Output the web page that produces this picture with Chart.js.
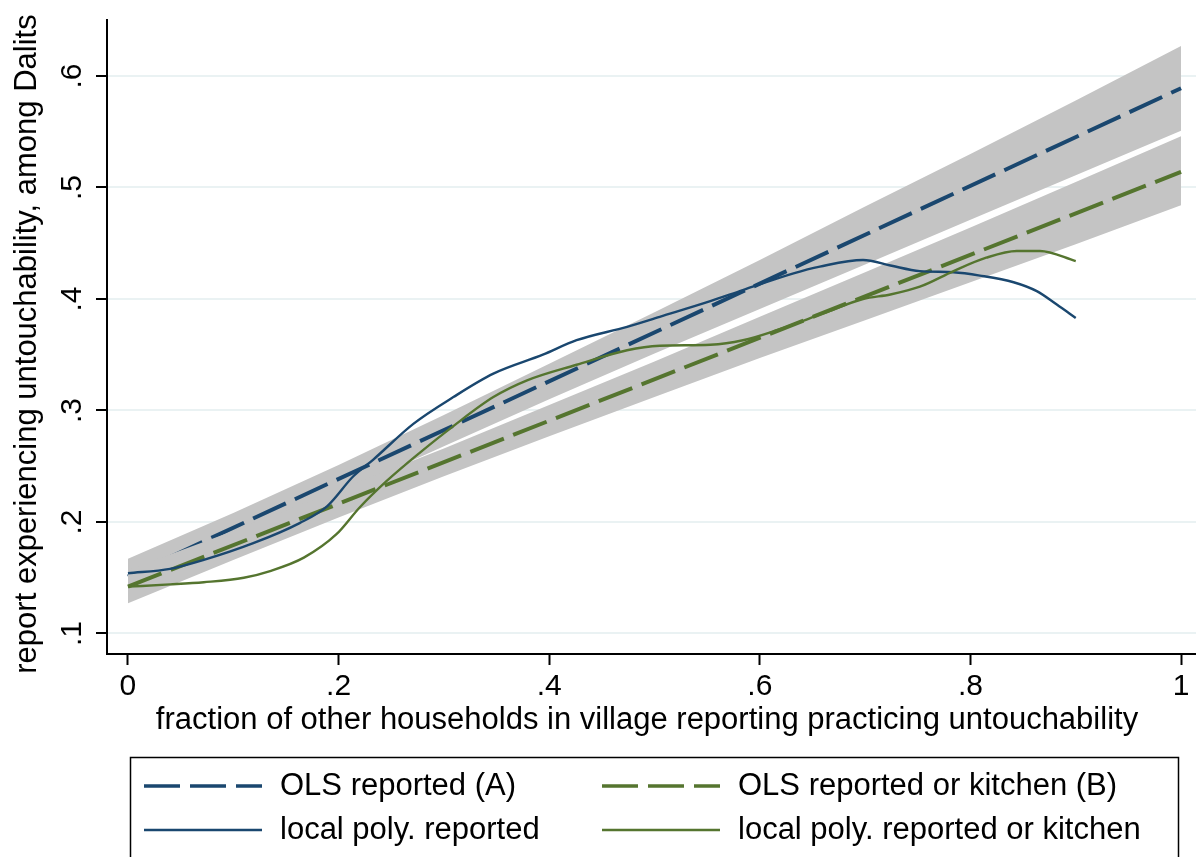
<!DOCTYPE html>
<html>
<head>
<meta charset="utf-8">
<script src="https://cdn.jsdelivr.net/npm/chart.js@4.4.1/dist/chart.umd.min.js"></script>
<style>
  html, body { margin: 0; padding: 0; background: #fff; }
  #wrap { width: 1196px; height: 857px; position: relative; }
</style>
</head>
<body>
<div id="wrap"><canvas id="chart"></canvas></div>
<script>
// axis ticks
const xTicks = [0, 0.2, 0.4, 0.6, 0.8, 1];
const yTicks = [0.1, 0.2, 0.3, 0.4, 0.5, 0.6];

// confidence bands, read at x = 0, .1, ... 1
const bandX = [0, 0.1, 0.2, 0.3, 0.4, 0.5, 0.6, 0.7, 0.8, 0.9, 1];
const bandAUpper = [0.167, 0.208, 0.251, 0.296, 0.342, 0.388, 0.435, 0.483, 0.530, 0.578, 0.627];
const bandALower = [0.135, 0.181, 0.225, 0.268, 0.310, 0.351, 0.391, 0.431, 0.471, 0.511, 0.551];
const bandBUpper = [0.157, 0.192, 0.229, 0.266, 0.305, 0.344, 0.384, 0.424, 0.464, 0.505, 0.546];
const bandBLower = [0.127, 0.166, 0.204, 0.241, 0.277, 0.312, 0.347, 0.381, 0.415, 0.449, 0.484];

// OLS fits
const olsX = [0, 1];
const olsA = [0.151, 0.589];
const olsB = [0.142, 0.514];

// local polynomial fits
const lpolyAX = [0, 0.04, 0.072, 0.119, 0.163, 0.189, 0.214, 0.233, 0.271, 0.309, 0.347, 0.394, 0.426, 0.474, 0.505, 0.553, 0.584, 0.632, 0.657, 0.698, 0.724, 0.752, 0.784, 0.809, 0.841, 0.863, 0.882, 0.9];
const lpolyA = [0.154, 0.158, 0.166, 0.181, 0.199, 0.214, 0.241, 0.256, 0.288, 0.312, 0.333, 0.350, 0.363, 0.375, 0.384, 0.398, 0.408, 0.423, 0.429, 0.435, 0.430, 0.425, 0.424, 0.421, 0.415, 0.407, 0.395, 0.383];
const lpolyBX = [0, 0.04, 0.072, 0.11, 0.135, 0.167, 0.198, 0.22, 0.246, 0.277, 0.309, 0.347, 0.379, 0.426, 0.474, 0.505, 0.553, 0.584, 0.616, 0.66, 0.698, 0.724, 0.752, 0.784, 0.815, 0.844, 0.866, 0.9];
const lpolyB = [0.142, 0.144, 0.146, 0.150, 0.156, 0.168, 0.189, 0.213, 0.237, 0.262, 0.286, 0.312, 0.327, 0.341, 0.354, 0.358, 0.359, 0.363, 0.372, 0.387, 0.400, 0.404, 0.411, 0.425, 0.437, 0.443, 0.443, 0.434];

const seriesLabels = ['OLS reported (A)', 'OLS reported or kitchen (B)', 'local poly. reported', 'local poly. reported or kitchen'];

const BLUE = '#1a476f';
const GREEN = '#55752f';
const BAND = '#c4c4c4';
const FONT = '"Liberation Sans", Arial, Helvetica, sans-serif';

function pts(xs, ys) {
    return xs.map((x, i) => ({ x: x, y: ys[i] }));
}

function fmt(v) {
    if (v === 0) return '0';
    if (v === 1) return '1';
    return String(+v.toFixed(2)).replace(/^0/, '');
}

const stataText = {
    id: 'stataText',
    afterDraw(chart) {
        const ctx = chart.ctx;
        const xs = chart.scales.x;
        const ys = chart.scales.y;
        const area = chart.chartArea;
        ctx.save();
        ctx.fillStyle = '#000';
        ctx.font = '30px ' + FONT;
        ctx.textBaseline = 'middle';
        ctx.textAlign = 'center';

        // x tick labels
        xTicks.forEach(v => {
            ctx.fillText(fmt(v), xs.getPixelForValue(v), area.bottom + 33);
        });
        // y tick labels, rotated like Stata
        yTicks.forEach(v => {
            ctx.save();
            ctx.translate(73, ys.getPixelForValue(v));
            ctx.rotate(-Math.PI / 2);
            ctx.fillText(fmt(v), 0, 0);
            ctx.restore();
        });

        // axis titles
        ctx.font = '31px ' + FONT;
        ctx.fillText('fraction of other households in village reporting practicing untouchability', 647, area.bottom + 66);
        ctx.save();
        ctx.translate(27, 344);
        ctx.rotate(-Math.PI / 2);
        ctx.fillText('report experiencing untouchability, among Dalits', 0, 0);
        ctx.restore();

        // legend box
        ctx.strokeStyle = '#000';
        ctx.lineWidth = 1.5;
        ctx.strokeRect(130.5, 757.5, 1048, 130);

        const entries = [
            { col: 0, row: 0, color: BLUE, dash: [36, 10], width: 3.5 },
            { col: 1, row: 0, color: GREEN, dash: [36, 10], width: 3.5 },
            { col: 0, row: 1, color: BLUE, dash: [], width: 2.3 },
            { col: 1, row: 1, color: GREEN, dash: [], width: 2.3 }
        ];
        const colX = [144, 602];
        const rowY = [786, 830];
        ctx.textAlign = 'left';
        entries.forEach((e, i) => {
            const x0 = colX[e.col];
            const y0 = rowY[e.row];
            ctx.beginPath();
            ctx.setLineDash(e.dash);
            ctx.lineWidth = e.width;
            ctx.strokeStyle = e.color;
            ctx.moveTo(x0, y0);
            ctx.lineTo(x0 + 118, y0);
            ctx.stroke();
            ctx.setLineDash([]);
            ctx.fillStyle = '#000';
            ctx.fillText(seriesLabels[i], x0 + 136, y0);
        });
        ctx.restore();
    }
};

const ctx = document.getElementById('chart').getContext('2d');
new Chart(ctx, {
    type: 'line',
    data: {
        datasets: [
            {
                data: pts(bandX, bandAUpper),
                borderColor: 'rgba(0,0,0,0)',
                borderWidth: 0,
                backgroundColor: BAND,
                fill: '+1',
                order: 10
            },
            {
                data: pts(bandX, bandALower),
                borderColor: 'rgba(0,0,0,0)',
                borderWidth: 0,
                fill: false,
                order: 11
            },
            {
                label: seriesLabels[0],
                data: pts(olsX, olsA),
                borderColor: BLUE,
                borderWidth: 4,
                borderDash: [36, 10],
                fill: false,
                order: 9
            },
            {
                data: pts(bandX, bandBUpper),
                borderColor: 'rgba(0,0,0,0)',
                borderWidth: 0,
                backgroundColor: BAND,
                fill: '+1',
                order: 8
            },
            {
                data: pts(bandX, bandBLower),
                borderColor: 'rgba(0,0,0,0)',
                borderWidth: 0,
                fill: false,
                order: 8.5
            },
            {
                label: seriesLabels[1],
                data: pts(olsX, olsB),
                borderColor: GREEN,
                borderWidth: 4,
                borderDash: [36, 10],
                fill: false,
                order: 7
            },
            {
                label: seriesLabels[2],
                data: pts(lpolyAX, lpolyA),
                borderColor: BLUE,
                borderWidth: 2.4,
                cubicInterpolationMode: 'monotone',
                fill: false,
                order: 6
            },
            {
                label: seriesLabels[3],
                data: pts(lpolyBX, lpolyB),
                borderColor: GREEN,
                borderWidth: 2.4,
                cubicInterpolationMode: 'monotone',
                fill: false,
                order: 5
            }
        ]
    },
    options: {
        responsive: true,
        maintainAspectRatio: false,
        animation: false,
        elements: { point: { radius: 0, hoverRadius: 0 } },
        layout: { padding: { top: 20, right: 0, bottom: 0, left: 0 } },
        plugins: {
            legend: { display: false },
            tooltip: { enabled: false },
            filler: { propagate: false }
        },
        scales: {
            x: {
                type: 'linear',
                min: -0.0199,
                max: 1.0142,
                afterBuildTicks: s => { s.ticks = xTicks.map(v => ({ value: v })); },
                afterFit: s => { s.height = 203; },
                ticks: { display: false },
                grid: {
                    drawOnChartArea: false,
                    drawTicks: true,
                    tickLength: 11,
                    tickColor: '#000',
                    tickWidth: 2
                },
                border: { display: true, color: '#000', width: 2 }
            },
            y: {
                type: 'linear',
                min: 0.0816,
                max: 0.6502,
                afterBuildTicks: s => { s.ticks = yTicks.map(v => ({ value: v })); },
                afterFit: s => { s.width = 107; },
                ticks: { display: false },
                grid: {
                    color: '#eaf2f3',
                    lineWidth: 2,
                    drawTicks: true,
                    tickLength: 11,
                    tickColor: '#000',
                    tickWidth: 2
                },
                border: { display: true, color: '#000', width: 2 }
            }
        }
    },
    plugins: [stataText]
});
</script>
</body>
</html>
